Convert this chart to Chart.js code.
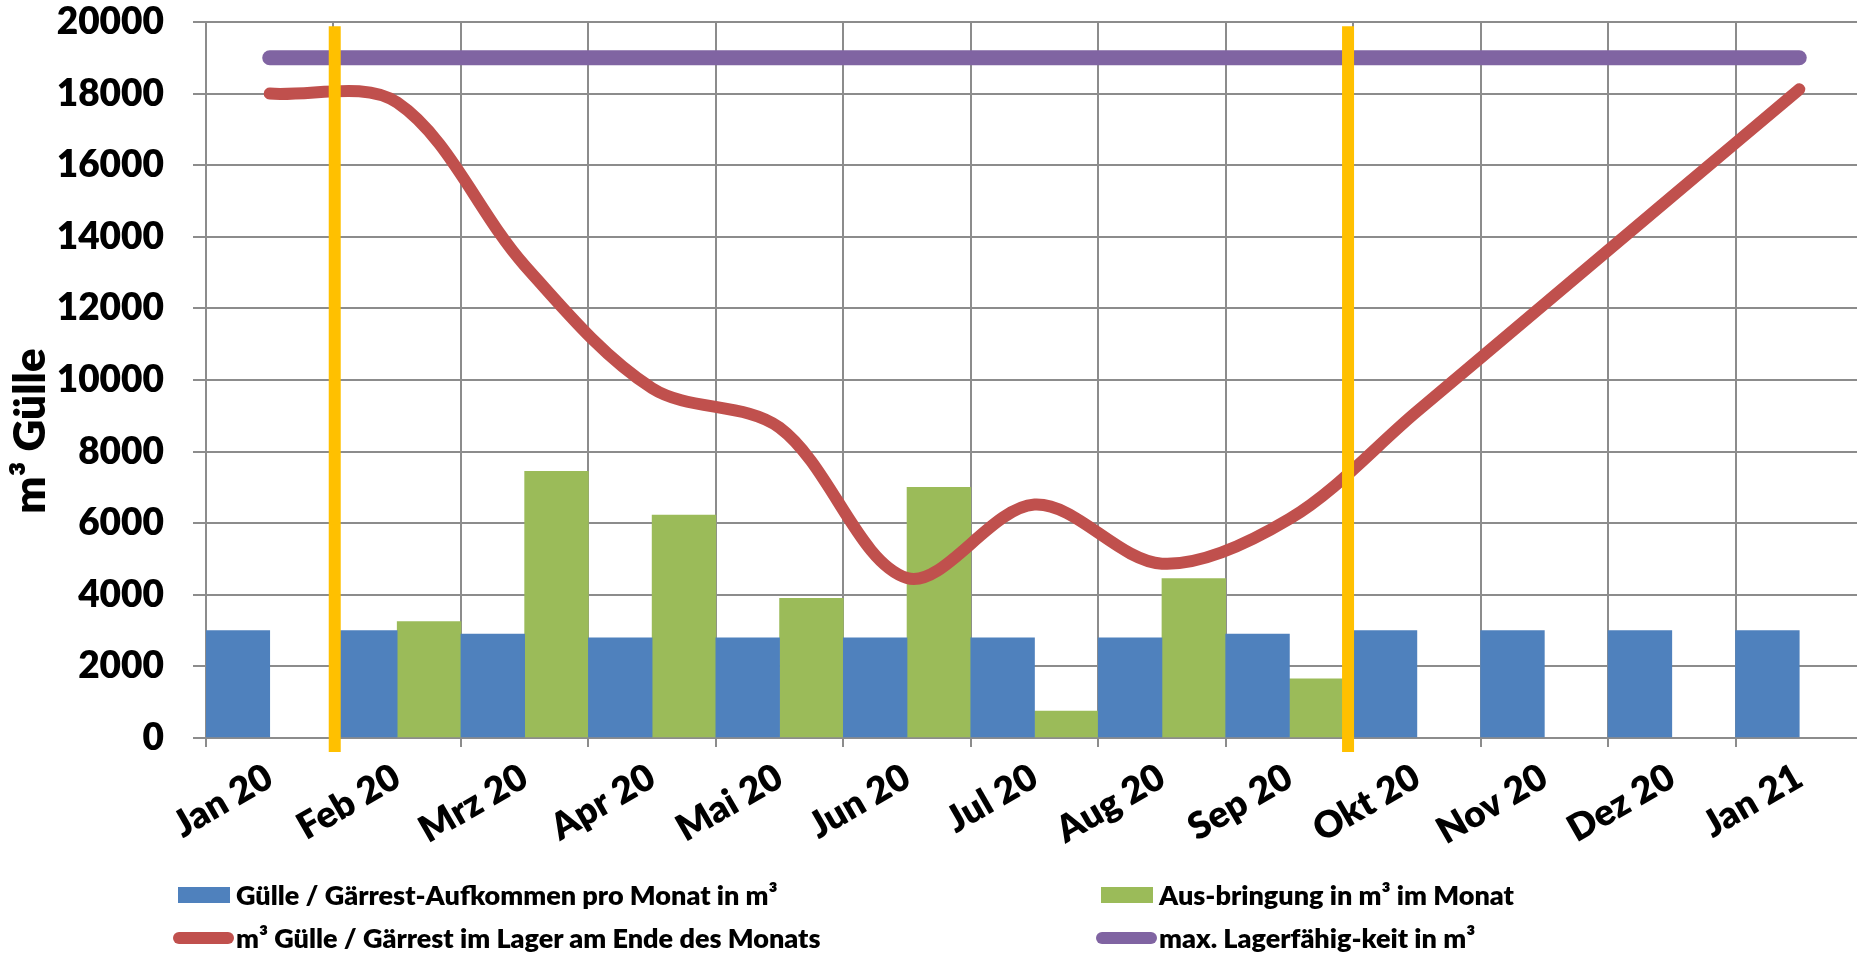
<!DOCTYPE html>
<html lang="de">
<head>
<meta charset="utf-8">
<title>Güllelager 2020</title>
<script src="https://cdn.jsdelivr.net/npm/chart.js@4.4.1/dist/chart.umd.min.js"></script>
<style>
  html, body { margin: 0; padding: 0; background: #fff; overflow: hidden; }
  #wrap { position: relative; width: 1863px; height: 954px; }
  #chart, #lines { position: absolute; left: 0; top: 0; }
  #legend { position: absolute; left: 0; top: 0; width: 100%; height: 100%; pointer-events: none;
            font-family: Lato, "Open Sans", sans-serif; font-weight: 800; font-size: 27px; color: #000; }
  .item { position: absolute; white-space: nowrap; line-height: 30px; height: 30px; }
  .sw { position: absolute; }
  .txt { position: absolute; top: 0; }
</style>
</head>
<body>
<div id="wrap">
  <canvas id="chart" width="1863" height="954"></canvas>
  <canvas id="lines" width="1863" height="954"></canvas>
  <div id="legend"></div>
</div>
<script>
// Monate
const months = ['Jan 20', 'Feb 20', 'Mrz 20', 'Apr 20', 'Mai 20', 'Jun 20', 'Jul 20',
                'Aug 20', 'Sep 20', 'Okt 20', 'Nov 20', 'Dez 20', 'Jan 21'];

// Gülle / Gärrest-Aufkommen pro Monat (m³)
const aufkommen = [3000, 3000, 2900, 2800, 2800, 2800, 2800, 2800, 2900, 3000, 3000, 3000, 3000];

// Ausbringung pro Monat (m³)
const ausbringung = [null, 3250, 7450, 6230, 3900, 7000, 750, 4450, 1650, null, null, null, null];

// Lagerstand am Ende des Monats (m³)
const lagerstand = [18000, 17750, 13200, 9770, 8670, 4470, 6520, 4870, 6120, 9120, 12120, 15120, 18120];

// maximale Lagerkapazität (m³)
const lagerkapazitaet = [19000, 19000, 19000, 19000, 19000, 19000, 19000, 19000, 19000, 19000, 19000, 19000, 19000];

// Ausbringungszeitraum: Grenzen (Monatsindex) und Höhe der Markierungslinien (m³)
const sperrfristGrenzen = [0.51, 8.46];
const sperrfristHoehe = [-390, 19880];

// Skala
const yTicks = { min: 0, max: 20000, step: 2000 };

const FONT = 'Lato, "Open Sans", sans-serif';
const WEIGHT = '800';
const GRID = '#8c8c8c';

// shared plot frame for both canvases
const FRAME = { top: 22, axisWidth: 206, axisHeight: 216 };
const fitX = (scale) => { scale.height = FRAME.axisHeight; scale.paddingLeft = 0; scale.paddingRight = 0; };
const fitY = (scale) => { scale.width = FRAME.axisWidth; scale.paddingTop = 0; scale.paddingBottom = 0; };
const layout = { padding: { top: FRAME.top, left: 0, right: 0, bottom: 0 }, autoPadding: false };
const hiddenAxis = { ticks: { display: false }, grid: { display: false }, border: { display: false } };

// vertical axis title
const yTitle = {
  id: 'yTitle',
  afterDraw(chart, args, o) {
    const ctx = chart.ctx;
    ctx.save();
    ctx.translate(o.x, o.y);
    ctx.rotate(-Math.PI / 2);
    ctx.font = WEIGHT + ' ' + o.size + 'px ' + FONT;
    ctx.fillStyle = '#000';
    ctx.textAlign = 'center';
    ctx.textBaseline = 'alphabetic';
    ctx.fillText(o.text, 0, 0);
    ctx.restore();
  }
};

// base chart: axes, grid and the monthly bars
const barChart = new Chart(document.getElementById('chart'), {
  type: 'bar',
  data: {
    labels: months,
    datasets: [
      {
        label: 'Gülle / Gärrest-Aufkommen pro Monat in m³',
        data: aufkommen,
        backgroundColor: '#4F81BD',
        borderWidth: 0,
        categoryPercentage: 1.0,
        barPercentage: 1.0
      },
      {
        label: 'Aus-bringung in m³ im Monat',
        data: ausbringung,
        backgroundColor: '#9BBB59',
        borderWidth: 0,
        categoryPercentage: 1.0,
        barPercentage: 1.0
      }
    ]
  },
  options: {
    responsive: false,
    animation: false,
    devicePixelRatio: 1,
    layout,
    plugins: {
      legend: { display: false },
      tooltip: { enabled: false },
      yTitle: { text: 'm³ Gülle', x: 45, y: 431, size: 44 }
    },
    scales: {
      x: {
        offset: true,
        ticks: {
          autoSkip: false,
          minRotation: 30,
          maxRotation: 30,
          padding: 8,
          color: '#000',
          font: { family: FONT, weight: WEIGHT, size: 37, lineHeight: 1.2 }
        },
        grid: { offset: true, color: GRID, lineWidth: 2, tickLength: 9 },
        border: { color: GRID, width: 2 },
        afterFit: fitX
      },
      y: {
        min: yTicks.min,
        max: yTicks.max,
        ticks: {
          stepSize: yTicks.step,
          padding: 29,
          color: '#000',
          font: { family: FONT, weight: WEIGHT, size: 37, lineHeight: 1 },
          callback: (v) => String(v)
        },
        grid: { color: GRID, lineWidth: 2, tickLength: 13 },
        border: { color: GRID, width: 2 },
        afterFit: fitY
      }
    }
  },
  plugins: [yTitle]
});

// line layer: storage level, capacity and the spreading-period marks
const lineChart = new Chart(document.getElementById('lines'), {
  type: 'line',
  data: {
    labels: months,
    datasets: [
      {
        label: 'm³ Gülle / Gärrest im Lager am Ende des Monats',
        data: lagerstand,
        borderColor: '#C0504D',
        backgroundColor: '#C0504D',
        borderWidth: 12,
        borderCapStyle: 'round',
        borderJoinStyle: 'round',
        tension: 0.33,
        pointRadius: 0,
        fill: false,
        order: 2
      },
      {
        label: 'max. Lagerfähig-keit in m³',
        data: lagerkapazitaet,
        borderColor: '#8064A2',
        backgroundColor: '#8064A2',
        borderWidth: 15,
        borderCapStyle: 'round',
        pointRadius: 0,
        fill: false,
        order: 1
      },
      ...sperrfristGrenzen.map(xPos => ({
        xAxisID: 'xv',
        data: sperrfristHoehe.map(v => ({ x: xPos, y: v })),
        borderColor: '#FFC000',
        borderWidth: 12,
        borderCapStyle: 'butt',
        pointRadius: 0,
        clip: false,
        order: 0,
        inLegend: false
      }))
    ]
  },
  options: {
    responsive: false,
    animation: false,
    devicePixelRatio: 1,
    layout,
    plugins: { legend: { display: false }, tooltip: { enabled: false } },
    scales: {
      x: { type: 'category', offset: true, ...hiddenAxis, afterFit: fitX },
      xv: { type: 'linear', min: -0.5, max: 12.5, offset: false, display: false },
      y: { type: 'linear', min: yTicks.min, max: yTicks.max, ...hiddenAxis, afterFit: fitY }
    }
  }
});

// legend in two columns
const legendSlots = [
  { left: 173, top: 880, kind: 'box' },
  { left: 1096, top: 880, kind: 'box' },
  { left: 173, top: 923, kind: 'line' },
  { left: 1096, top: 923, kind: 'line' }
];
const legendEntries = barChart.data.datasets
  .concat(lineChart.data.datasets.filter(d => d.inLegend !== false));
const legendEl = document.getElementById('legend');
legendEntries.forEach((ds, i) => {
  const slot = legendSlots[i];
  const item = document.createElement('div');
  item.className = 'item';
  item.style.left = slot.left + 'px';
  item.style.top = slot.top + 'px';
  const sw = document.createElement('span');
  sw.className = 'sw';
  if (slot.kind === 'box') {
    Object.assign(sw.style, { left: '5px', top: '7px', width: '52px', height: '16px', background: ds.backgroundColor });
  } else {
    Object.assign(sw.style, { left: '0px', top: '9px', width: '61px', height: '12px', borderRadius: '6px', background: ds.borderColor });
  }
  const tx = document.createElement('span');
  tx.className = 'txt';
  tx.style.left = '63px';
  tx.textContent = ds.label;
  item.appendChild(sw);
  item.appendChild(tx);
  legendEl.appendChild(item);
});
</script>
</body>
</html>
